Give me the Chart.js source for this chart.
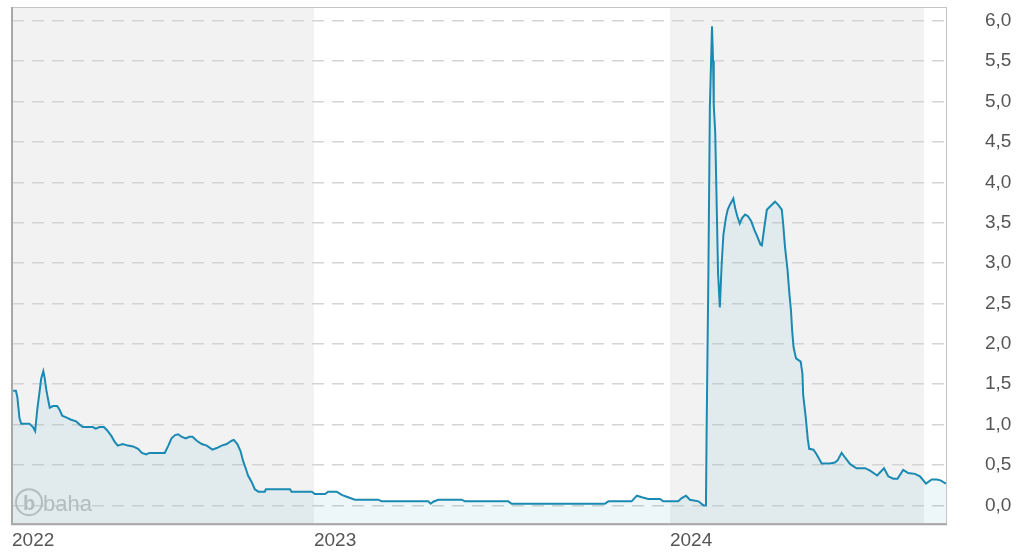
<!DOCTYPE html>
<html>
<head>
<meta charset="utf-8">
<script src="https://cdn.jsdelivr.net/npm/chart.js@4"></script>
<style>
  html, body { margin: 0; padding: 0; background: #fff; }
  #wrap { width: 1027px; height: 558px; }
</style>
</head>
<body>
<div id="wrap"><canvas id="chart" width="1027" height="558"></canvas></div>
<script>
// x = decimal year, y = price
const dates = [
  2022.155, 2022.163, 2022.167, 2022.173, 2022.178, 2022.201, 2022.211, 2022.217, 2022.223, 2022.228,
  2022.234, 2022.240, 2022.244, 2022.248, 2022.253, 2022.258, 2022.267, 2022.279, 2022.286, 2022.293,
  2022.304, 2022.318, 2022.332, 2022.342, 2022.351, 2022.379, 2022.387, 2022.398, 2022.410, 2022.419,
  2022.431, 2022.440, 2022.449, 2022.463, 2022.478, 2022.492, 2022.506, 2022.517, 2022.529, 2022.538,
  2022.581, 2022.591, 2022.600, 2022.610, 2022.619, 2022.628, 2022.640, 2022.650, 2022.659, 2022.671,
  2022.685, 2022.699, 2022.715, 2022.727, 2022.741, 2022.755, 2022.769, 2022.775, 2022.785, 2022.794,
  2022.801, 2022.809, 2022.815, 2022.825, 2022.834, 2022.844, 2022.862, 2022.865, 2022.933, 2022.937,
  2022.994, 2023.003, 2023.031, 2023.040, 2023.064, 2023.078, 2023.096, 2023.115, 2023.181, 2023.190,
  2023.321, 2023.328, 2023.335, 2023.349, 2023.415, 2023.424, 2023.546, 2023.555, 2023.817, 2023.827,
  2023.892, 2023.907, 2023.921, 2023.939, 2023.972, 2023.981, 2024.023, 2024.033, 2024.045, 2024.056,
  2024.080, 2024.094, 2024.101, 2024.103, 2024.108, 2024.112, 2024.118, 2024.121, 2024.123, 2024.127,
  2024.131, 2024.135, 2024.140, 2024.145, 2024.150, 2024.157, 2024.162, 2024.168, 2024.178, 2024.183,
  2024.189, 2024.196, 2024.203, 2024.211, 2024.219, 2024.228, 2024.237, 2024.245, 2024.254, 2024.258,
  2024.264, 2024.272, 2024.281, 2024.295, 2024.304, 2024.314, 2024.318, 2024.323, 2024.330, 2024.335,
  2024.340, 2024.343, 2024.347, 2024.354, 2024.367, 2024.372, 2024.374, 2024.381, 2024.387, 2024.391,
  2024.403, 2024.412, 2024.426, 2024.449, 2024.463, 2024.471, 2024.482, 2024.492, 2024.506, 2024.524,
  2024.548, 2024.562, 2024.582, 2024.601, 2024.613, 2024.627, 2024.639, 2024.655, 2024.669, 2024.688,
  2024.702, 2024.719, 2024.735, 2024.749, 2024.760, 2024.775
];
const prices = [
  1.42, 1.42, 1.34, 1.08, 1.01, 1.01, 0.97, 0.92, 1.19, 1.36,
  1.57, 1.66, 1.57, 1.44, 1.32, 1.21, 1.23, 1.23, 1.18, 1.11,
  1.09, 1.06, 1.04, 1.00, 0.97, 0.97, 0.95, 0.97, 0.97, 0.93,
  0.86, 0.79, 0.74, 0.76, 0.74, 0.73, 0.70, 0.65, 0.63, 0.65,
  0.65, 0.74, 0.83, 0.87, 0.88, 0.85, 0.83, 0.85, 0.85, 0.80,
  0.76, 0.74, 0.69, 0.71, 0.74, 0.76, 0.80, 0.81, 0.76, 0.67,
  0.55, 0.45, 0.37, 0.29, 0.20, 0.17, 0.17, 0.20, 0.20, 0.17,
  0.17, 0.14, 0.14, 0.17, 0.17, 0.13, 0.10, 0.07, 0.07, 0.05,
  0.05, 0.02, 0.045, 0.07, 0.07, 0.05, 0.05, 0.02, 0.02, 0.05,
  0.05, 0.12, 0.10, 0.08, 0.08, 0.05, 0.05, 0.09, 0.12, 0.07,
  0.05, 0.00, 0.00, 0.98, 2.94, 4.93, 5.93, 5.50, 4.95, 4.62,
  3.76, 2.88, 2.45, 2.98, 3.35, 3.56, 3.66, 3.72, 3.80, 3.68,
  3.58, 3.49, 3.56, 3.60, 3.58, 3.52, 3.41, 3.33, 3.23, 3.22,
  3.41, 3.66, 3.70, 3.76, 3.72, 3.66, 3.48, 3.20, 2.92, 2.64,
  2.40, 2.17, 1.96, 1.82, 1.78, 1.63, 1.37, 1.10, 0.82, 0.70,
  0.69, 0.63, 0.52, 0.52, 0.53, 0.56, 0.65, 0.59, 0.51, 0.46,
  0.46, 0.43, 0.37, 0.46, 0.36, 0.33, 0.33, 0.44, 0.40, 0.39,
  0.36, 0.27, 0.32, 0.32, 0.31, 0.27
];

const xMin = 2022.152, xMax = 2024.778;
const xTickPos = [xMin, 2023, 2024];
const xTickLabels = ['2022', '2023', '2024'];
const yTicks = [0, 0.5, 1, 1.5, 2, 2.5, 3, 3.5, 4, 4.5, 5, 5.5, 6];
const yTickLabels = ['0,0', '0,5', '1,0', '1,5', '2,0', '2,5', '3,0', '3,5', '4,0', '4,5', '5,0', '5,5', '6,0'];
// shaded periods [from, to]
const grayBands = [[xMin, 2023], [2024, 2024.713]];

const FONT = 'Liberation Sans, Arial, sans-serif';

// label overflow padding would shrink the plot, the picture has none
function noPadding(axis) {
  axis.paddingTop = 0;
  axis.paddingBottom = 0;
  axis.paddingLeft = 0;
  axis.paddingRight = 0;
}

// grey/white background periods
const bandsPlugin = {
  id: 'bands',
  beforeDraw(chart) {
    const {ctx, chartArea: a, scales: {x}} = chart;
    ctx.save();
    ctx.fillStyle = '#fff';
    ctx.fillRect(a.left, a.top, a.right - a.left, a.bottom - a.top);
    ctx.fillStyle = '#f2f2f2';
    grayBands.forEach(b => {
      const x1 = Math.max(x.getPixelForValue(b[0]), a.left);
      const x2 = Math.min(x.getPixelForValue(b[1]), a.right);
      ctx.fillRect(x1, a.top, x2 - x1, a.bottom - a.top);
    });
    ctx.restore();
  }
};

// baha watermark + frame
const logoPlugin = {
  id: 'logo',
  beforeDatasetsDraw(chart) {
    const {ctx, chartArea: a} = chart;
    ctx.save();
    ctx.strokeStyle = '#c0c0c0';
    ctx.fillStyle = '#c0c0c0';
    ctx.lineWidth = 2;
    ctx.beginPath();
    ctx.arc(a.left + 17, a.bottom - 22, 13, 0, Math.PI * 2);
    ctx.stroke();
    ctx.font = 'bold 20px ' + FONT;
    ctx.textAlign = 'center';
    ctx.textBaseline = 'alphabetic';
    ctx.fillText('b', a.left + 17, a.bottom - 14);
    ctx.font = '22px ' + FONT;
    ctx.textAlign = 'left';
    ctx.fillText('baha', a.left + 31, a.bottom - 13);
    ctx.restore();
  },
  afterDraw(chart) {
    const {ctx, chartArea: a} = chart;
    ctx.save();
    ctx.strokeStyle = '#c4c4c4';
    ctx.lineWidth = 1;
    ctx.strokeRect(a.left + 0.5, a.top + 0.5, a.right - a.left - 1, a.bottom - a.top - 1);
    ctx.strokeStyle = '#a8a8a8';
    ctx.lineWidth = 2;
    ctx.beginPath();
    ctx.moveTo(a.left, a.top);
    ctx.lineTo(a.left, a.bottom);
    ctx.lineTo(a.right, a.bottom);
    ctx.stroke();
    ctx.restore();
  }
};

const chart = new Chart(document.getElementById('chart'), {
  type: 'line',
  data: {
    datasets: [{
      data: dates.map((d, i) => ({x: d, y: prices[i]})),
      borderColor: '#1b8ab3',
      borderWidth: 2,
      backgroundColor: 'rgba(30,140,180,0.08)',
      fill: 'start',
      pointRadius: 0,
      tension: 0
    }]
  },
  options: {
    responsive: false,
    animation: false,
    layout: { padding: { left: 12, top: 7, right: 0, bottom: 1 } },
    plugins: { legend: { display: false }, tooltip: { enabled: false } },
    scales: {
      x: {
        type: 'linear',
        min: xMin,
        max: xMax,
        afterBuildTicks: axis => { axis.ticks = xTickPos.map(v => ({value: v})); },
        afterFit: noPadding,
        grid: { display: false, drawTicks: false },
        border: { display: false },
        ticks: {
          autoSkip: false,
          maxRotation: 0,
          align: 'start',
          padding: 5,
          color: '#555',
          font: { family: FONT, size: 19 },
          callback: (v, i) => xTickLabels[i]
        }
      },
      y: {
        position: 'right',
        min: -0.233,
        max: 6.17,
        afterBuildTicks: axis => { axis.ticks = yTicks.map(v => ({value: v})); },
        afterFit: axis => { noPadding(axis); axis.width = 80; },
        grid: { color: '#d4d4d4', lineWidth: 1.5, drawTicks: false },
        border: { display: false, dash: [12, 8] },
        ticks: {
          padding: 38,
          color: '#555',
          font: { family: FONT, size: 19 },
          callback: (v, i) => yTickLabels[i]
        }
      }
    }
  },
  plugins: [bandsPlugin, logoPlugin]
});
</script>
</body>
</html>
